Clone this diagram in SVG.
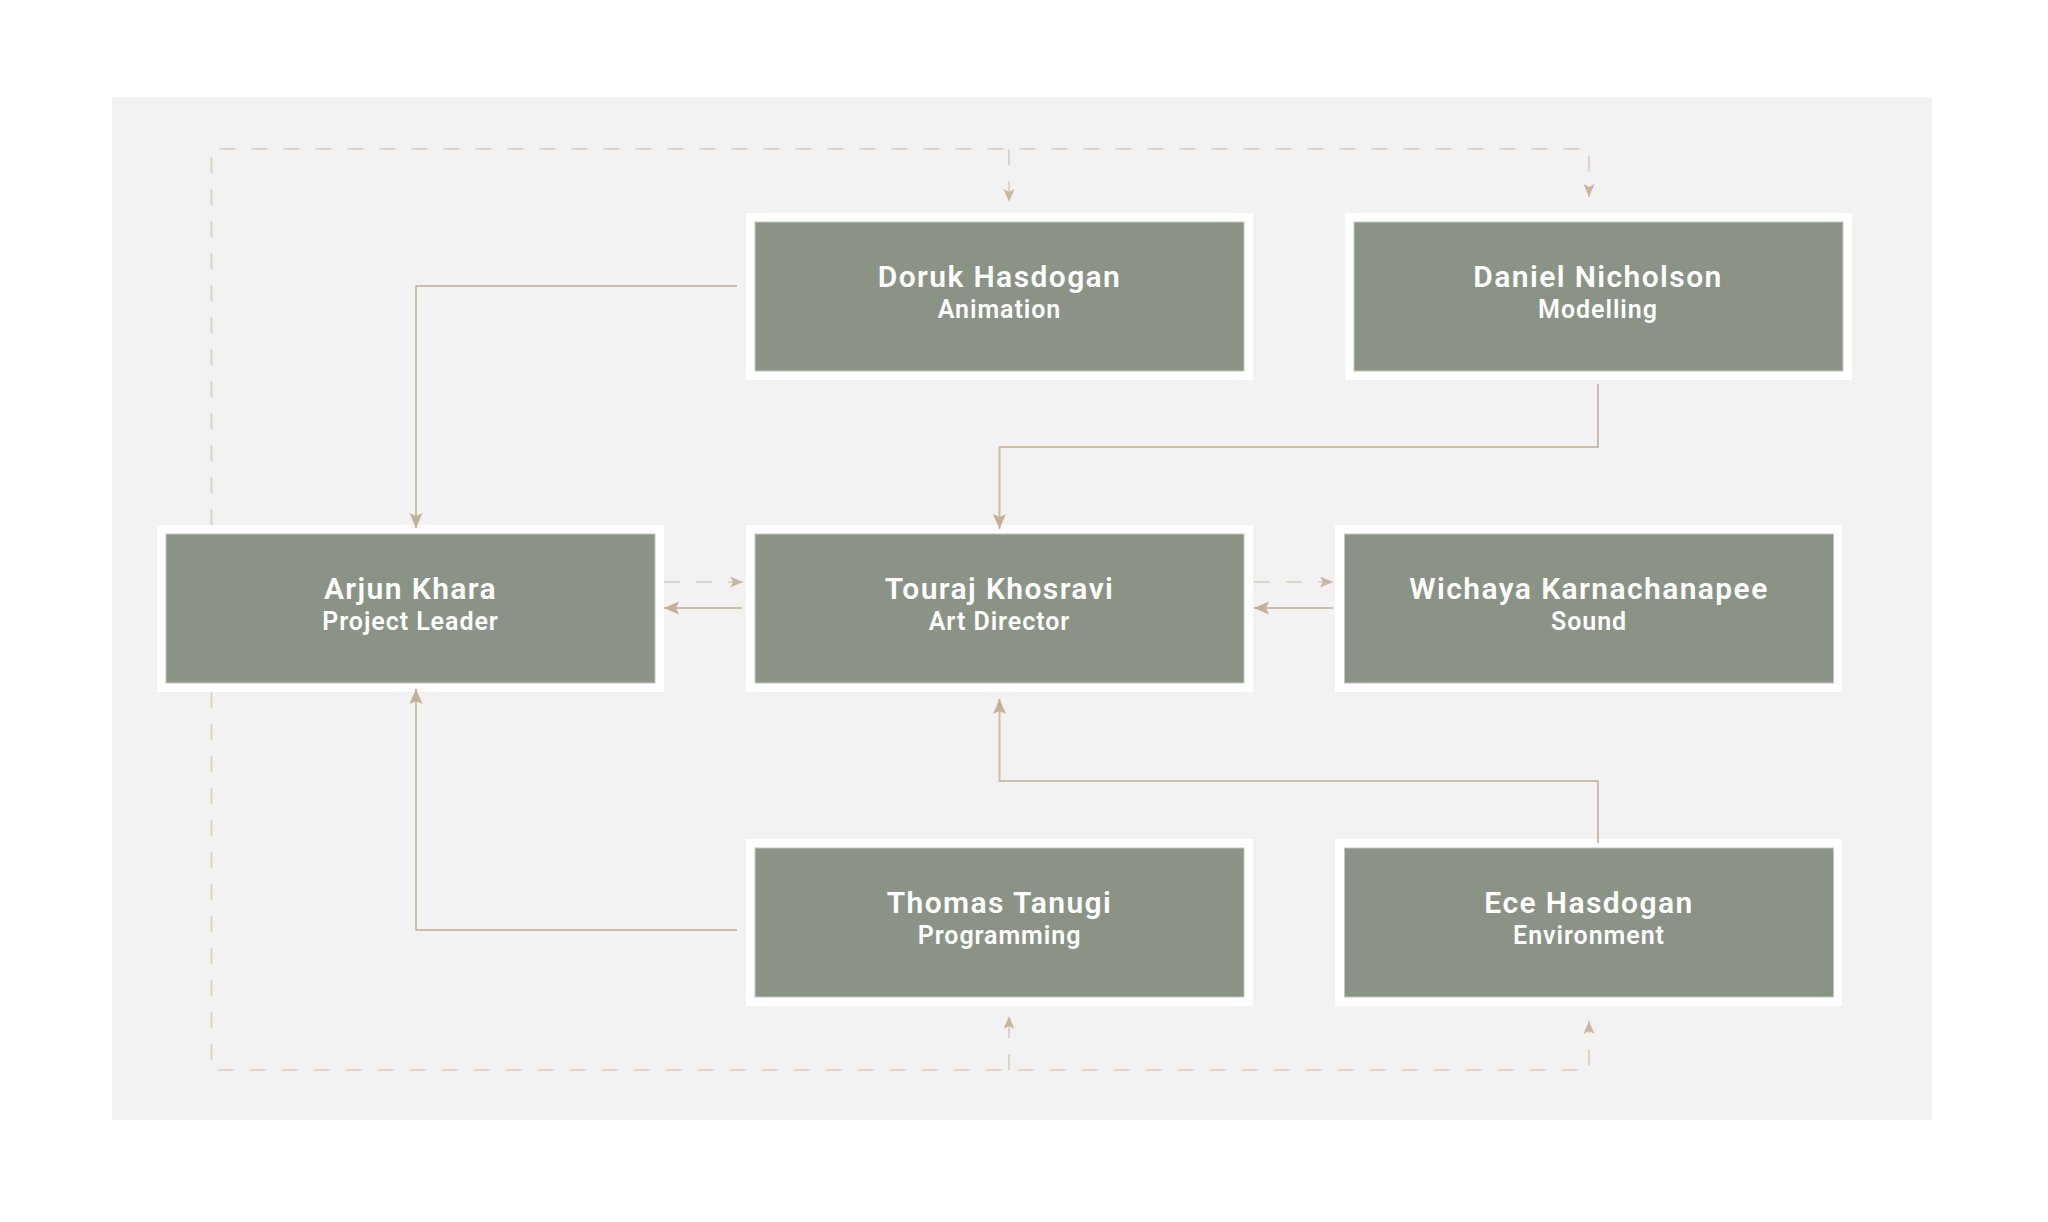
<svg xmlns="http://www.w3.org/2000/svg" width="2048" height="1222" viewBox="0 0 2048 1222">
<defs>
<style>
.outer{fill:#ffffff}
.inner{fill:#8a9386;stroke:#c3c7bf;stroke-width:1}
.name{font-family:Roboto,"Noto Sans",sans-serif;font-weight:600;font-size:30px;letter-spacing:1.4px;fill:#ffffff;text-anchor:middle}
.role{font-family:Roboto,"Noto Sans",sans-serif;font-weight:600;font-size:25px;letter-spacing:0.95px;fill:#ffffff;text-anchor:middle}
.solid{fill:none;stroke:#cdbca7;stroke-width:2}
.dash{fill:none;stroke:#dfd4c6;stroke-width:2;stroke-dasharray:16 16}
</style>
<marker id="arr" markerUnits="userSpaceOnUse" markerWidth="16" markerHeight="14" refX="15" refY="6.5" orient="auto">
<path d="M0,0 L15,6.5 L0,13 L3,6.5 z" fill="#c4b097"/>
</marker>
<marker id="arrd" markerUnits="userSpaceOnUse" markerWidth="14" markerHeight="12" refX="13" refY="5.5" orient="auto">
<path d="M0,0 L13,5.5 L0,11 L3,5.5 z" fill="#c9b69e"/>
</marker>
</defs>
<rect width="2048" height="1222" fill="#ffffff"/>
<rect x="112" y="97" width="1820" height="1023" fill="#f2f2f2"/>

<g id="connectors">
<path class="dash" d="M211.5,525 V149 H1589 V197" marker-end="url(#arrd)"/>
<path class="dash" d="M1009,149 V202" marker-end="url(#arrd)"/>
<path class="dash" d="M211.5,692 V1070 H1589 V1021" marker-end="url(#arrd)"/>
<path class="dash" d="M1009,1070 V1016" marker-end="url(#arrd)"/>
</g>

<g id="node-arjun">
<rect class="outer" x="157" y="525" width="507" height="167"/>
<rect class="inner" x="166" y="534" width="489" height="149"/>
<text class="name" x="410.5" y="599">Arjun Khara</text>
<text class="role" x="410.5" y="630">Project Leader</text>
</g>
<g id="node-touraj">
<rect class="outer" x="746" y="525" width="507" height="167"/>
<rect class="inner" x="755" y="534" width="489" height="149"/>
<text class="name" x="999.5" y="599">Touraj Khosravi</text>
<text class="role" x="999.5" y="630">Art Director</text>
</g>
<g id="node-wichaya">
<rect class="outer" x="1335" y="525" width="507" height="167"/>
<rect class="inner" x="1344.5" y="534" width="489" height="149"/>
<text class="name" x="1589" y="599">Wichaya Karnachanapee</text>
<text class="role" x="1589" y="630">Sound</text>
</g>
<g id="node-doruk">
<rect class="outer" x="746" y="213" width="507" height="167"/>
<rect class="inner" x="755" y="222" width="489" height="149"/>
<text class="name" x="999.5" y="287">Doruk Hasdogan</text>
<text class="role" x="999.5" y="318">Animation</text>
</g>
<g id="node-daniel">
<rect class="outer" x="1345" y="213" width="507" height="167"/>
<rect class="inner" x="1354" y="222" width="489" height="149"/>
<text class="name" x="1598" y="287">Daniel Nicholson</text>
<text class="role" x="1598" y="318">Modelling</text>
</g>
<g id="node-thomas">
<rect class="outer" x="746" y="839" width="507" height="167"/>
<rect class="inner" x="755" y="848" width="489" height="149"/>
<text class="name" x="999.5" y="913">Thomas Tanugi</text>
<text class="role" x="999.5" y="944">Programming</text>
</g>
<g id="node-ece">
<rect class="outer" x="1335" y="839" width="507" height="167"/>
<rect class="inner" x="1344.5" y="848" width="489" height="149"/>
<text class="name" x="1589" y="913">Ece Hasdogan</text>
<text class="role" x="1589" y="944">Environment</text>
</g>

<g id="connectors-solid">
<path class="solid" d="M737,286 H416 V528" marker-end="url(#arr)"/>
<path class="solid" d="M737,930 H416 V689" marker-end="url(#arr)"/>
<path class="solid" d="M1598,384 V447 H999.5 V529" marker-end="url(#arr)"/>
<path class="solid" d="M1598,843 V781 H999.5 V699" marker-end="url(#arr)"/>
<path class="solid" d="M742,608 H664" marker-end="url(#arr)"/>
<path class="solid" d="M1333,608 H1254" marker-end="url(#arr)"/>
<path class="dash" d="M664,582 H743" marker-end="url(#arrd)"/>
<path class="dash" d="M1254,582 H1333" marker-end="url(#arrd)"/>
</g>
</svg>
